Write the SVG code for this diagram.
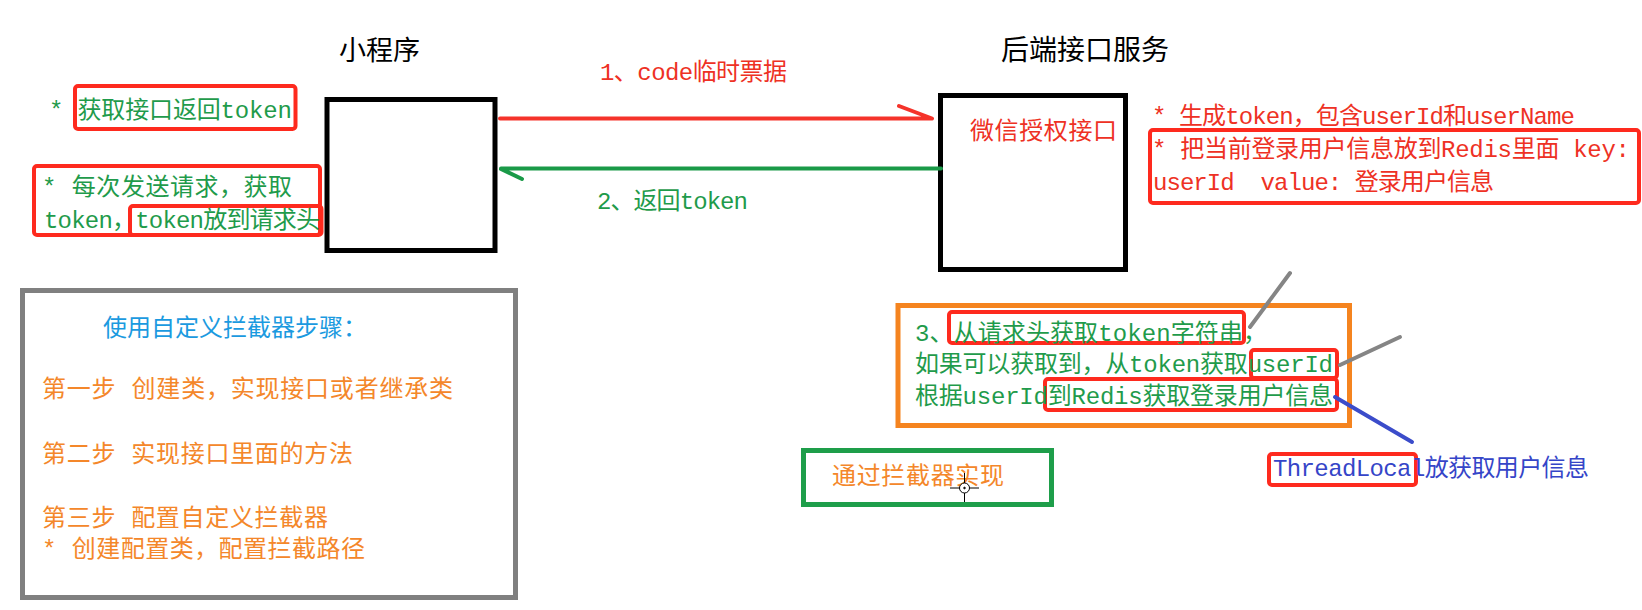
<svg xmlns="http://www.w3.org/2000/svg" width="1642" height="610" viewBox="0 0 1642 610">
<style>
  text { font-family: "Liberation Mono", "Noto Sans CJK SC", monospace; font-size: 24px; }
  .title { font-family: "Noto Sans CJK SC", sans-serif; font-size: 27px; fill: #000; }
  .g { fill: #1f9b4b; }
  .r { fill: #ee3124; }
  .o { fill: #f4872a; }
  .b { fill: #1b9ae0; }
  .db { fill: #3545c8; }
  .box { fill: none; stroke: #000; stroke-width: 5; }
  .hl { fill: none; stroke: #fe2a1e; stroke-width: 4; }
  .gray { fill: none; stroke: #808080; stroke-width: 5; }
  .orange { fill: none; stroke: #f5841f; stroke-width: 5; }
  .green { fill: none; stroke: #1e9e4a; stroke-width: 5; }
  .conn { fill: none; stroke-width: 4; stroke-linecap: round; }
</style>
<rect x="0" y="0" width="1642" height="610" fill="#fff"/>

<g id="miniprogram">
  <text class="title" x="339" y="60">小程序</text>
  <rect class="box" x="327" y="99.5" width="168" height="151"/>
</g>

<g id="note-get-token">
  <rect class="hl" x="75" y="86" width="220.5" height="43" rx="3"/>
  <text class="g" x="49" y="118" textLength="243">* 获取接口返回token</text>
</g>

<g id="note-each-request">
  <rect class="hl" x="34" y="166" width="286" height="69" rx="3"/>
  <rect class="hl" x="130" y="206" width="191.5" height="29" rx="3"/>
  <text class="g" x="42" y="195" textLength="250">* 每次发送请求，获取</text>
  <text class="g" x="44" y="228" textLength="276">token，token放到请求头</text>
</g>

<g id="backend">
  <text class="title" x="1001" y="60" style="font-size:28px">后端接口服务</text>
  <rect class="box" x="940.5" y="95.5" width="185" height="174"/>
  <text class="r" x="970" y="139" textLength="147">微信授权接口</text>
</g>

<g id="note-backend">
  <text class="r" x="1152" y="124" textLength="423">* 生成token，包含userId和userName</text>
  <rect class="hl" x="1150" y="130" width="489" height="73" rx="3"/>
  <text class="r" x="1152" y="157" textLength="478">* 把当前登录用户信息放到Redis里面 key:</text>
  <text class="r" x="1153" y="190" textLength="341" xml:space="preserve">userId  value: 登录用户信息</text>
</g>

<g id="steps">
  <rect class="gray" x="22.5" y="290.5" width="493" height="307"/>
  <text class="b" x="103" y="336">使用自定义拦截器步骤：</text>
  <text class="o" x="42" y="397" textLength="411">第一步 创建类，实现接口或者继承类</text>
  <text class="o" x="42" y="462" textLength="311">第二步 实现接口里面的方法</text>
  <text class="o" x="42" y="526" textLength="286">第三步 配置自定义拦截器</text>
  <text class="o" x="42" y="557" textLength="323">* 创建配置类，配置拦截路径</text>
</g>

<g id="step3">
  <rect class="orange" x="898" y="305.5" width="451.5" height="120"/>
  <rect class="hl" x="949" y="312" width="295" height="31" rx="3"/>
  <rect class="hl" x="1251" y="350" width="86" height="28" rx="3"/>
  <rect class="hl" x="1045" y="379" width="292" height="31" rx="3"/>
  <text class="g" x="915" y="341" textLength="352">3、从请求头获取token字符串，</text>
  <text class="g" x="915" y="372" textLength="418">如果可以获取到，从token获取userId</text>
  <text class="g" x="915" y="404" textLength="418">根据userId到Redis获取登录用户信息</text>
</g>

<g id="interceptor">
  <rect class="green" x="803.5" y="450.5" width="248" height="54"/>
  <text class="o" x="832" y="484" textLength="172">通过拦截器实现</text>
  <g fill="none" stroke="#000" stroke-width="1">
    <line x1="964.5" y1="473" x2="964.5" y2="502"/>
    <line x1="950" y1="488" x2="979" y2="488"/>
    <circle cx="964.5" cy="488" r="5" fill="#fff"/>
    <circle cx="964.5" cy="488" r="0.8" fill="#000"/>
  </g>
</g>

<g id="threadlocal">
  <rect class="hl" x="1269" y="454" width="147" height="31" rx="3"/>
  <text class="db" x="1273" y="476" textLength="316">ThreadLocal放获取用户信息</text>
</g>

<g id="connectors">
  <path class="conn" stroke="#f5332a" d="M500,118.5 L931,118.5 M899,106 L932,118.5"/>
  <text class="r" x="600" y="80" textLength="187">1、code临时票据</text>
  <path class="conn" stroke="#1a9a48" d="M501,168.5 L941,168.5 M501,169 L522,179"/>
  <text class="g" x="597" y="209" textLength="151">2、返回token</text>
  <line class="conn" stroke="#858585" x1="1250" y1="327" x2="1290" y2="273"/>
  <line class="conn" stroke="#858585" x1="1340" y1="365" x2="1400" y2="337"/>
  <line class="conn" stroke="#3b4cca" x1="1335" y1="397" x2="1412" y2="442"/>
</g>
</svg>
